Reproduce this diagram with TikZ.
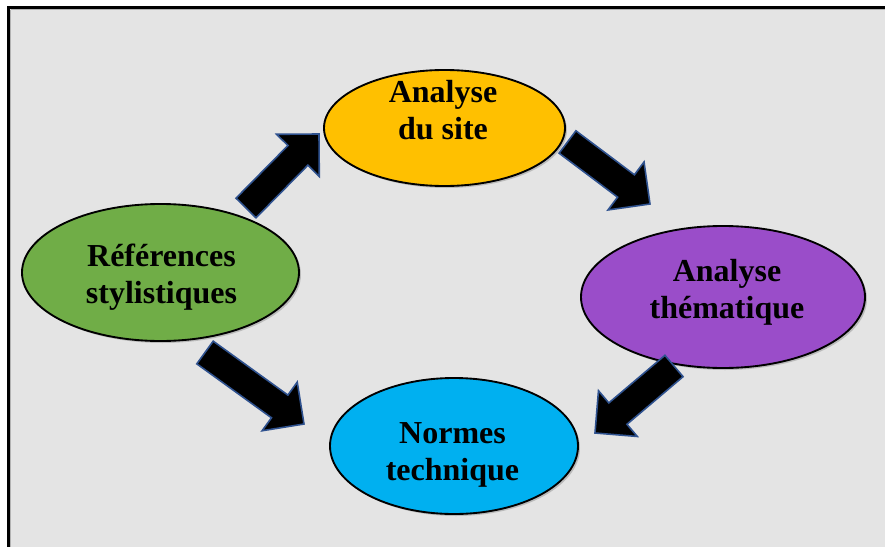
\documentclass[tikz,border=0pt]{standalone}
\usepackage{fontspec}
\setmainfont{Liberation Serif}
\usetikzlibrary{shapes.geometric,calc,shadows}
\definecolor{bgc}{HTML}{E4E4E4}
\definecolor{ylw}{HTML}{FFC000}
\definecolor{grn}{HTML}{70AD47}
\definecolor{blu}{HTML}{00B0F0}
\definecolor{prp}{HTML}{9A4DC9}
\definecolor{arb}{HTML}{2F528F}
\tikzset{
  bubble/.style={ellipse, draw=black, line width=1.4pt, inner sep=0pt,
    drop shadow={shadow xshift=1.5pt, shadow yshift=-1.5pt, opacity=0.18, fill=black}},
  lbl/.style={align=center, inner sep=0pt, font=\fontsize{24}{27.8}\selectfont\bfseries},
  blockarrow/.style={fill=black, draw=arb, line width=1.2pt, line join=miter}
}
\newcommand{\blockarr}[2]{%
  \draw[blockarrow]
    ($(#1)!10.5pt!90:(#2)$) --
    ($($(#2)!22.5pt!(#1)$)!10.5pt!90:(#2)$) --
    ($($(#2)!22.5pt!(#1)$)!22.5pt!90:(#2)$) --
    (#2) --
    ($($(#2)!22.5pt!(#1)$)!22.5pt!-90:(#2)$) --
    ($($(#2)!22.5pt!(#1)$)!10.5pt!-90:(#2)$) --
    ($(#1)!10.5pt!-90:(#2)$) -- cycle;}
\begin{document}
\begin{tikzpicture}[x=0.75pt,y=-0.75pt]
\clip (0,0) rectangle (885,546);
\useasboundingbox (0,0) rectangle (885,546);
\fill[white] (0,0) rectangle (885,546);
\draw[fill=bgc, line width=2.2pt] (8.7,7.6) rectangle (900,560);
\draw[gray!60, line width=0.6pt] (10.8,9.7) -- (900,9.7) (10.8,9.7) -- (10.8,560);

% ellipses
\node[bubble, fill=ylw, minimum width=180.75pt, minimum height=87pt] (site) at (444.5,128) {};
\node[bubble, fill=prp, minimum width=213pt, minimum height=106.5pt] (them) at (723,297) {};
\node[bubble, fill=grn, minimum width=207.75pt, minimum height=102.75pt] (ref) at (160.5,272.5) {};
\node[bubble, fill=blu, minimum width=186pt, minimum height=102pt] (norm) at (454,446) {};

% labels
\node[lbl] (tsite) at (443,110.5) {Analyse\\du site};
\node[lbl] (tthem) at (727,292) {Analyse\\thématique};
\node[lbl] (tref) at (161.5,277) {Références\\stylistiques};
\node[lbl] (tnorm) at (452.5,455) {Normes\\technique};

% arrow ends
\coordinate (a1t) at (246,208);   \coordinate (a1h) at (319,134);
\coordinate (a2t) at (567.5,142); \coordinate (a2h) at (650,204);
\coordinate (a3t) at (674,366);   \coordinate (a3h) at (595,433);
\coordinate (a4t) at (205,352.5); \coordinate (a4h) at (304,424);

\blockarr{a1t}{a1h}
\blockarr{a2t}{a2h}
\blockarr{a3t}{a3h}
\blockarr{a4t}{a4h}
\end{tikzpicture}
\end{document}
